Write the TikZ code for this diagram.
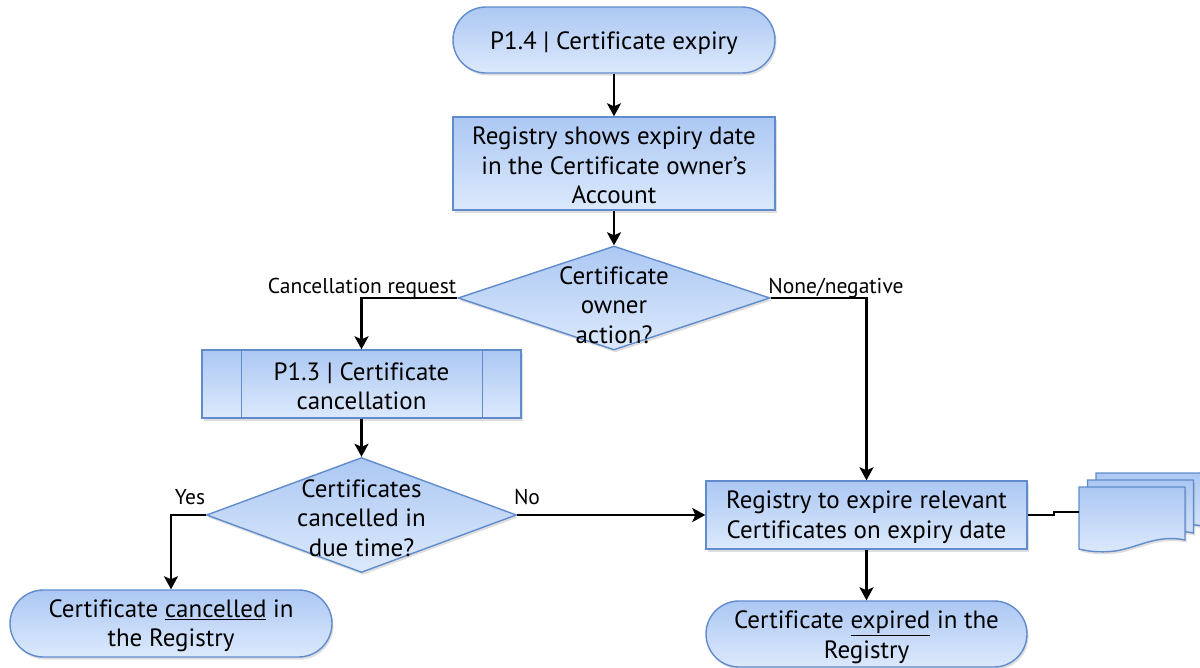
\documentclass[tikz,border=0pt]{standalone}
\usepackage{fontspec}
\setmainfont{PT Sans}[Ligatures=CommonOff]
\usetikzlibrary{shapes.geometric,shapes.misc,arrows.meta,shadows}
\definecolor{bluetop}{RGB}{172,200,243}
\definecolor{bluebot}{RGB}{220,233,252}
\definecolor{blueline}{RGB}{96,140,205}
\begin{document}
\begin{tikzpicture}[x=1pt,y=-1pt,
  shapefill/.style={top color=bluetop, bottom color=bluebot, draw=blueline, line width=1.4pt,
    drop shadow={shadow xshift=1.5pt, shadow yshift=-2.5pt, opacity=0.25}},
  maintext/.style={font=\fontsize{25}{29.5}\selectfont, align=center},
  term/.style={shapefill, rounded rectangle, inner sep=0pt},
  proc/.style={shapefill, rectangle, inner sep=0pt},
  dia/.style={shapefill, diamond, inner sep=0pt},
  dtext/.style={maintext, inner sep=0pt},
  lab/.style={font=\fontsize{21.5}{24}\selectfont, inner sep=0pt},
  conn/.style={line width=2.7pt, black},
  arr/.style={conn, -{Stealth[length=13pt,width=14pt,inset=3pt]}},
  docpic/.pic={
    \path[shapefill] (0,0) -- (106,0) -- (106,53)
      .. controls (78,47) and (58,61) .. (36,64)
      .. controls (20,66) and (8,64) .. (0,62) -- cycle;
  }
]
\fill[white] (0,0) rectangle (1200,667);
\useasboundingbox (0,0) rectangle (1200,667);

% shapes
\node[term, minimum width=322pt, minimum height=66pt] (start) at (614,40) {};
\node[proc, minimum width=322pt, minimum height=93pt] (b1) at (614,163.5) {};
\node[dia, minimum width=312pt, minimum height=104pt] (d1) at (614,298) {};
\node[proc, minimum width=319pt, minimum height=68pt] (p13) at (361.5,384) {};
\draw[blueline, line width=1.2pt] ([xshift=40pt]p13.north west) -- ([xshift=40pt]p13.south west);
\draw[blueline, line width=1.2pt] ([xshift=-39pt]p13.north east) -- ([xshift=-39pt]p13.south east);
\node[dia, minimum width=310pt, minimum height=115pt] (d2) at (361.5,515) {};
\node[proc, minimum width=321pt, minimum height=68pt] (reg) at (866.5,515) {};
\node[term, minimum width=322pt, minimum height=67pt] (canc) at (171,623.5) {};
\node[term, minimum width=321pt, minimum height=66pt] (exp) at (866.5,634) {};

% texts
\node[dtext] (startt) at ([yshift=-3pt]start.center) {P1.4 | Certificate expiry};
\node[dtext] (b1t) at ([yshift=-2pt]b1.center) {Registry shows expiry date\\in the Certificate owner’s\\Account};
\node[dtext] (d1t) at (614,305) {Certificate\\owner\\action?};
\node[dtext] (p13t) at ([yshift=-2pt]p13.center) {P1.3 | Certificate\\cancellation};
\node[dtext] (d2t) at (361.5,518) {Certificates\\cancelled in\\due time?};
\node[dtext] (regt) at ([yshift=-2pt]reg.center) {Registry to expire relevant\\Certificates on expiry date};
\node[dtext] (canct) at ([yshift=-2pt]canc.center) {Certificate \underline{cancelled} in\\the Registry};
\node[dtext] (expt) at ([yshift=-3pt]exp.center) {Certificate \underline{expired} in the\\Registry};

% documents
\pic at (1096,473) {docpic};
\pic at (1087.5,480) {docpic};
\pic at (1079,487) {docpic};
\coordinate (doc) at (1079,512);

% labels
\node[lab] (lcr) at (362,288) {Cancellation request};
\node[lab] (lnn) at (836,288) {None/negative};
\node[lab] (lyes) at (190,497) {Yes};
\node[lab] (lno) at (527,497) {No};

% connectors
\draw[arr] (start.south) -- (b1.north);
\draw[arr] (b1.south) -- (d1.north);
\draw[arr] (d1.west) -| (p13.north);
\draw[arr] (d1.east) -| (reg.north);
\draw[arr] (p13.south) -- (d2.north);
\draw[arr] (d2.west) -| (canc.north);
\draw[arr] (d2.east) -- (reg.west);
\draw[arr] (reg.south) -- (exp.north);
\draw[conn, line width=2.2pt] (reg.east) -- ++(26,0) |- (doc);
\end{tikzpicture}
\end{document}
